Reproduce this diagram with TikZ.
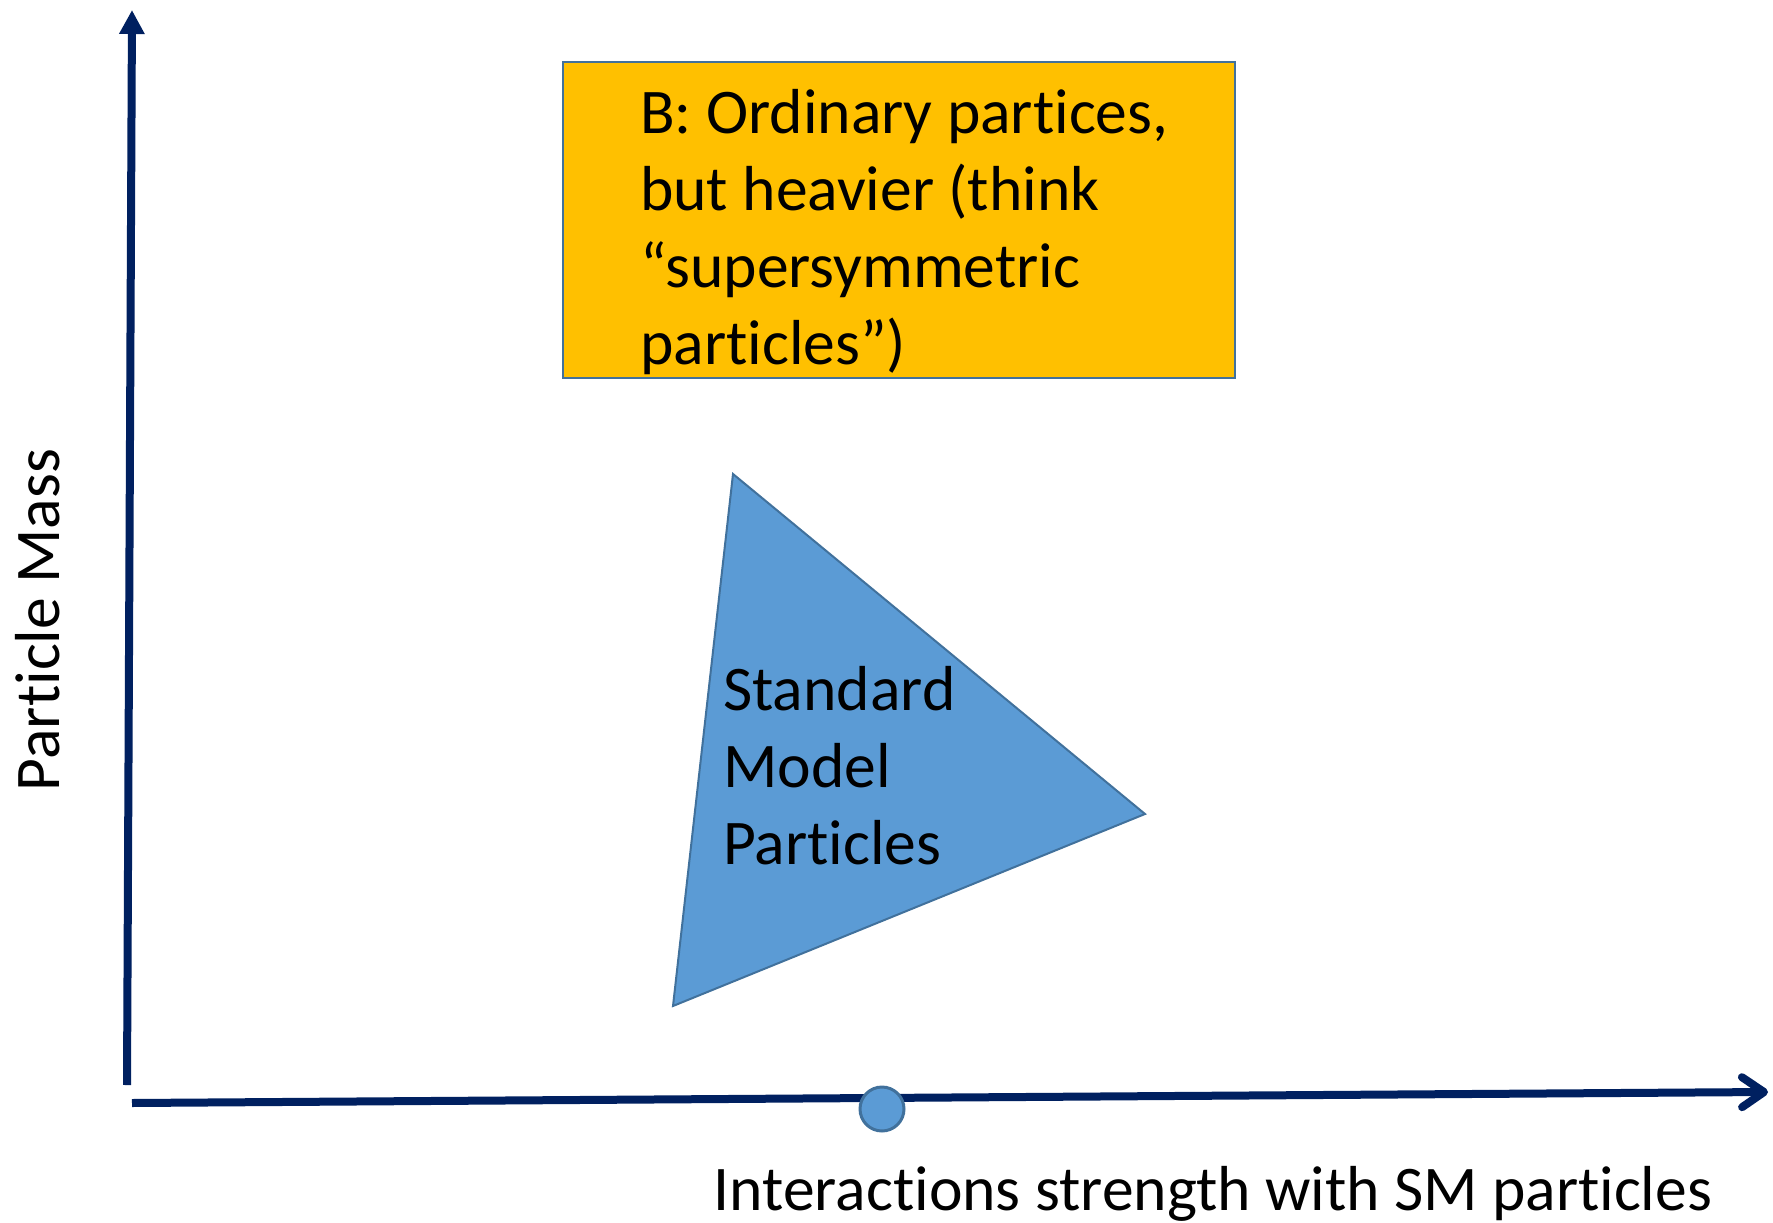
\documentclass[tikz,border=0pt]{standalone}
\usepackage{fontspec}
\setmainfont{Carlito}[Ligatures={NoCommon}]
\usetikzlibrary{arrows.meta}
\definecolor{axisblue}{HTML}{002060}
\definecolor{boxorange}{HTML}{FFC000}
\definecolor{smblue}{HTML}{5B9BD5}
\definecolor{edgeblue}{HTML}{41719C}
\tikzset{
  axisline/.style={draw=axisblue, line width=8pt},
  bigtext/.style={font=\fontsize{63.6}{77}\selectfont, inner sep=0pt, align=left},
}
\begin{document}
\begin{tikzpicture}[x=1pt,y=-1pt]
\useasboundingbox (0,0) rectangle (1773,1223);
% axes
\coordinate (yb) at (127,1085);
\coordinate (yt) at (132,10);
\coordinate (xb) at (132,1103);
\coordinate (xt) at (1768,1092);
\draw[axisline, -{Triangle[width=24pt,length=24pt]}] (yb) -- (yt);
\draw[axisline, line cap=butt, -{Straight Barb[length=22pt,width=30pt,round]}] (xb) -- (xt);
% dot on axis
\node[circle, fill=smblue, draw=edgeblue, line width=3pt, minimum size=44pt, inner sep=0pt] (dot) at (882,1109) {};
% orange box
\node[draw=edgeblue, line width=2pt, fill=boxorange, minimum width=672pt, minimum height=316pt, inner sep=0pt] (box) at (899,220) {};
% base anchor of a multi-line node = baseline of its last line
\node[bigtext, anchor=base west] (boxtext) at (640,364) {B: Ordinary partices,\\but heavier (think\\“supersymmetric\\particles”)};
% triangle
\coordinate (t1) at (733,474);
\coordinate (t2) at (1145,814);
\coordinate (t3) at (673,1006);
\draw[fill=smblue, draw=edgeblue, line width=2pt, line join=miter] (t1) -- (t2) -- (t3) -- cycle;
\node[bigtext, anchor=base west] (smtext) at (723,864) {Standard\\Model\\Particles};
% axis labels
\node[bigtext, rotate=90, anchor=base] (ylabel) at (59,620) {Particle Mass};
\node[bigtext, anchor=base] (xlabel) at (1213,1210) {Interactions strength with SM particles};
\end{tikzpicture}
\end{document}
